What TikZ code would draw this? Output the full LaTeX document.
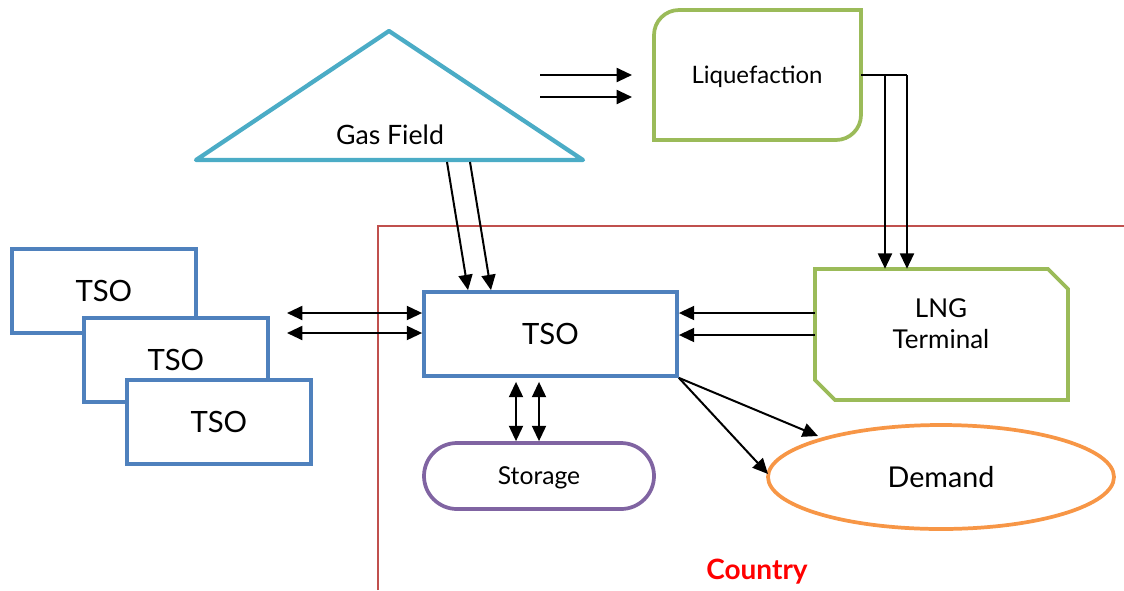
\documentclass[tikz,border=0pt]{standalone}
\usepackage{fontspec}
\setmainfont{Lato}
\usetikzlibrary{arrows.meta,shapes.misc,shapes.geometric}
\definecolor{gfblue}{RGB}{75,172,198}
\definecolor{tsoblue}{RGB}{79,129,189}
\definecolor{lgreen}{RGB}{155,187,89}
\definecolor{cred}{RGB}{192,80,77}
\definecolor{spurple}{RGB}{128,100,162}
\definecolor{dorange}{RGB}{247,150,70}
\tikzset{
  flow/.style={line width=1.5pt,-{Triangle[length=11.5pt,width=10.5pt]}},
  bflow/.style={line width=1.5pt,{Triangle[length=11.5pt,width=10.5pt]}-{Triangle[length=11.5pt,width=10.5pt]}},
  tsobox/.style={draw=tsoblue,line width=2.8pt,fill=white,minimum width=138pt,minimum height=63pt,font=\fontsize{22}{26}\selectfont,inner sep=0pt},
  lbl/.style={font=\fontsize{18}{22}\selectfont,inner sep=0pt}
}
\begin{document}
\begin{tikzpicture}[x=0.75pt,y=-0.75pt]
\useasboundingbox (0,0) rectangle (1124,590);
% country border
\draw[cred,line width=1.1pt] (378,590) -- (378,226) -- (1124,226);
\node[text=red,font=\bfseries\fontsize{21}{24}\selectfont,inner sep=0pt] (country) at (757,572) {Country};
% gas field
\draw[gfblue,line width=3.2pt,line join=round] (196,160) -- (389,31) -- (583,160) -- cycle;
\node[lbl,font=\fontsize{20}{24}\selectfont] (gas) at (390,135) {Gas Field};
\coordinate (g1) at (447,162);
\coordinate (g2) at (470,162);
% liquefaction
\draw[lgreen,line width=2.8pt] (654,35) arc[start angle=180,end angle=270,radius=25] -- (861,10) -- (861,115) arc[start angle=0,end angle=90,radius=25] -- (654,140) -- cycle;
\node[lbl] (liq) at (757,77) {Liquefaction};
\coordinate (lq1) at (540,75);
\coordinate (lq2) at (540,97);
\coordinate (lqa) at (632,75);
\coordinate (lqb) at (632,97);
\coordinate (lqr) at (861,75);
% LNG terminal
\draw[lgreen,line width=2.8pt] (815,269) -- (1048,269) -- (1068,289) -- (1068,400) -- (835,400) -- (815,380) -- cycle;
\node[minimum width=189.75pt,minimum height=98.25pt,inner sep=0pt] (lng) at (941.5,334.5) {};
\node[lbl,font=\fontsize{19.5}{23}\selectfont,align=center] (lngt) at (941,324) {LNG\\Terminal};
% central TSO
\node[tsobox,minimum width=189.75pt] (tso) at (550.5,334) {TSO};
% left TSOs
\node[tsobox,anchor=north west] (t1) at (10,247) {TSO};
\node[tsobox,anchor=north west] (t2) at (82,316) {TSO};
\node[tsobox,anchor=north west] (t3) at (125,378) {TSO};
\coordinate (la) at (287,313);
\coordinate (lb) at (287,333);
% storage
\node[rounded rectangle,draw=spurple,line width=2.8pt,minimum width=172.5pt,minimum height=49.5pt,lbl,font=\fontsize{18.5}{22}\selectfont] (sto) at (539,476) {};
\node[lbl,font=\fontsize{18.5}{22}\selectfont] (stot) at (539,478) {Storage};
% demand
\node[ellipse,draw=dorange,line width=2.8pt,minimum width=259.5pt,minimum height=78pt,inner sep=0pt,font=\fontsize{21.5}{25}\selectfont] (dem) at (941,477) {Demand};
% connectors
\draw[flow] (lq1) -- (lqa);
\draw[flow] (lq2) -- (lqb);
\draw[line width=1.5pt] (lqr) -- (907,75);
\draw[flow] (885,75) -- (lng.north west -| 885,0);
\draw[flow] (907,75) -- (lng.north west -| 907,0);
\draw[flow] (g1) -- (tso.north west -| 468,0);
\draw[flow] (g2) -- (tso.north west -| 491,0);
\draw[bflow] (la) -- (tso.west |- la);
\draw[bflow] (lb) -- (tso.west |- lb);
\draw[flow] (lng.west |- 0,313) -- (tso.east |- 0,313);
\draw[flow] (lng.west |- 0,335) -- (tso.east |- 0,335);
\draw[bflow] (tso.south -| 516,0) ++(0,4) -- (sto.north -| 516,0);
\draw[bflow] (tso.south -| 539,0) ++(0,4) -- (sto.north -| 539,0);
\draw[flow] (tso.south east) -- (818,436);
\draw[flow] (tso.south east) -- (768,474);
\end{tikzpicture}
\end{document}
